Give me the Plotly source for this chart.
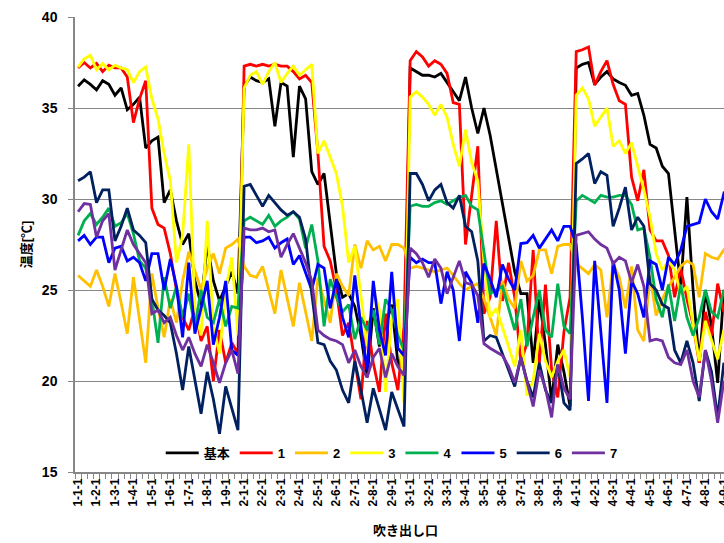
import plotly.graph_objects as go

# categories: group-position-sub
categories = [f"{g}-{p}-{s}" for g in range(1, 5) for p in range(1, 10) for s in range(1, 4)]

series_names = ["基本", "1", "2", "3", "4", "5", "6", "7"]
series_colors = ["#000000", "#FF0000", "#FFC000", "#FFFF00", "#00B050", "#0000FF", "#002060", "#7030A0"]

kihon = [
    36.2, 36.55, 36.3, 36.0, 36.5, 36.3, 35.7, 36.1, 34.9, 35.2, 35.6, 32.8, 33.2, 33.4, 29.8, 30.5, 28.8, 27.5, 28.1, 25.5, 24.2, 27.5, 25.5, 24.4, 25.2, 26.0, 24.8,
    36.2, 36.7, 36.5, 36.4, 36.6, 34.0, 36.4, 36.2, 32.3, 36.2, 35.5, 31.5, 30.8, 31.4, 28.5, 25.9, 24.6, 24.8, 24.1, 22.5, 20.2, 24.0, 21.9, 23.0, 24.2, 21.0, 20.2,
    37.2, 37.0, 36.8, 36.8, 36.7, 36.9, 36.4, 35.9, 35.4, 36.7, 35.0, 33.6, 35.0, 33.5, 31.6, 29.9, 28.0, 26.0, 24.8, 24.8, 21.0, 24.5, 22.0, 18.9, 22.0, 20.5, 18.6,
    37.2, 37.4, 37.5, 36.3, 36.7, 37.0, 36.6, 36.4, 36.25, 35.7, 35.8, 34.6, 33.0, 32.8, 31.8, 31.4, 28.3, 25.2, 30.1, 25.0, 21.0, 25.0, 23.0, 19.9, 25.0, 23.5, 22.0,
]
s1 = [
    37.2, 37.5, 37.2, 37.45, 37.0, 37.35, 37.2, 37.2, 36.7, 34.2, 35.5, 36.5, 29.5, 28.6, 28.4, 27.0, 25.0, 23.5, 22.8, 24.0, 22.2, 23.0, 20.0, 22.8, 21.0, 22.1, 21.5,
    37.3, 37.4, 37.3, 37.4, 37.3, 37.4, 37.3, 37.3, 37.0, 36.6, 36.8, 36.4, 32.5, 27.4, 26.6, 25.0, 22.5, 23.2, 21.1, 19.0, 23.3, 21.0, 19.4, 23.7, 21.0, 19.5, 23.0,
    37.6, 38.1, 37.8, 37.3, 37.6, 37.4, 36.9, 35.3, 35.2, 27.5, 30.2, 32.9, 23.7, 24.6, 28.8, 24.4, 26.5, 24.6, 21.0, 22.1, 27.2, 21.0, 25.3, 20.6, 19.1, 22.7, 24.6,
    38.1, 38.2, 38.35, 36.25, 37.0, 37.6, 36.3, 35.4, 35.2, 31.2, 29.9, 31.6, 28.3, 27.7, 27.7, 26.9, 24.6, 26.2, 24.5, 23.1, 21.0, 23.8, 22.5, 25.35, 23.8, 24.5, 23.0,
]
s2 = [
    25.8, 25.5, 25.2, 26.1, 25.2, 24.1, 25.9, 24.3, 22.6, 25.7, 23.3, 21.0, 25.9, 24.0, 22.4, 24.5, 23.2, 25.5, 27.1, 26.0, 25.0, 26.2, 27.0, 25.9, 27.3, 27.5, 27.8,
    26.3, 25.8, 25.7, 26.3, 25.0, 23.7, 26.1, 24.5, 23.0, 25.4, 23.8, 22.2, 25.7, 24.5, 23.2, 25.9, 25.2, 24.7, 27.5, 26.2, 27.7, 27.2, 27.4, 26.6, 27.5, 27.5, 27.3,
    26.2, 26.3, 26.2, 26.1, 26.0, 26.1, 26.2, 25.8, 25.35, 25.0, 25.2, 25.35, 24.5, 23.5, 22.5, 25.5, 24.5, 24.0, 26.6, 25.5, 25.8, 27.2, 27.2, 25.9, 27.4, 27.5, 27.5,
    26.45, 26.2, 25.9, 26.4, 26.1, 23.5, 26.45, 25.7, 24.0, 26.3, 22.8, 22.2, 25.8, 23.6, 24.5, 25.2, 25.7, 26.3, 26.6, 26.4, 24.6, 27.0, 26.8, 26.7, 27.2, 27.0, 26.8,
]
s3 = [
    37.25, 37.7, 37.9, 37.1, 37.45, 37.1, 37.35, 37.2, 37.1, 36.4, 37.0, 37.25, 35.5, 34.4, 32.5, 31.0, 26.5, 28.0, 33.0, 24.0, 22.5, 28.8, 23.0, 21.5, 25.0, 26.8, 22.5,
    36.1, 36.8, 37.0, 36.3, 37.0, 37.5, 36.4, 36.9, 37.3, 36.8, 37.1, 37.4, 32.5, 33.2, 32.3, 31.4, 29.6, 26.5, 27.4, 24.5, 21.9, 25.0, 23.9, 19.4, 23.5, 24.5, 18.8,
    35.6, 35.9, 35.6, 35.2, 34.6, 35.2, 34.5, 33.0, 31.8, 33.8, 32.0, 31.0, 26.5, 23.5, 24.0, 23.0, 21.9, 20.8, 22.8, 19.2, 20.0, 22.6, 21.1, 20.2, 21.1, 21.7, 20.2,
    35.7, 36.1, 35.5, 34.0, 34.5, 35.0, 32.9, 33.2, 32.5, 33.1, 31.8, 30.5, 29.0, 27.0, 26.1, 26.6, 26.1, 24.8, 25.2, 23.2, 21.1, 23.3, 22.3, 21.2, 22.8, 21.5, 20.5,
]
s4 = [
    28.0, 28.8, 29.2, 28.6, 29.0, 29.5, 28.5, 28.7, 29.2, 28.1, 26.6, 26.2, 24.5, 22.1, 25.7, 24.0, 25.2, 23.5, 24.8, 23.0, 25.0, 23.5, 23.2, 24.5, 23.0, 24.1, 24.0,
    28.8, 29.0, 28.8, 28.6, 29.1, 28.5, 28.8, 29.0, 29.3, 28.9, 27.3, 28.6, 26.6, 23.0, 25.6, 24.6, 23.8, 24.2, 22.3, 23.5, 22.8, 23.9, 22.0, 24.5, 23.9, 22.5, 21.7,
    29.6, 29.7, 29.6, 29.6, 29.8, 29.9, 29.7, 29.9, 30.1, 30.2, 29.6, 29.4, 27.2, 24.8, 25.0, 25.2, 24.0, 22.8, 24.5, 21.9, 23.5, 25.0, 22.8, 22.4, 25.35, 23.0, 22.6,
    29.9, 30.2, 30.0, 29.8, 30.2, 30.1, 30.1, 30.2, 30.2, 29.7, 28.3, 28.4, 26.8, 24.5, 23.5, 25.3, 23.3, 25.3, 23.5, 22.5, 23.5, 25.0, 23.8, 23.5, 25.0, 24.0, 23.0,
]
s5 = [
    27.7, 28.0, 27.5, 27.9, 27.9, 26.5, 27.3, 27.4, 26.6, 26.8, 26.5, 25.5, 27.0, 27.0, 25.0, 26.7, 25.2, 22.4, 26.5, 22.6, 24.0, 25.5, 22.0, 23.5, 25.5, 21.7, 21.4,
    27.9, 27.9, 27.6, 27.7, 27.9, 27.3, 27.6, 27.8, 26.4, 26.9, 26.0, 25.0, 26.4, 26.2, 24.0, 25.6, 23.5, 22.4, 25.8, 23.0, 20.6, 25.5, 22.8, 21.4, 26.0, 21.8, 21.4,
    26.8, 26.5, 26.7, 26.5, 26.5, 24.25, 26.0, 25.0, 22.2, 26.0, 25.4, 23.2, 26.45, 25.6, 24.6, 26.4, 25.6, 25.0, 27.55, 27.6, 28.0, 27.3, 27.8, 28.3, 27.7, 28.5, 28.5,
    27.5, 23.5, 18.9, 26.6, 22.5, 18.8, 26.6, 25.0, 21.5, 25.5, 24.8, 23.5, 26.6, 26.4, 25.0, 26.8, 26.4, 27.2, 28.5, 28.6, 28.7, 30.0, 29.3, 28.9, 30.3, 30.0, 29.8,
]
s6 = [
    31.0, 31.2, 31.5, 29.8, 30.5, 30.5, 27.7, 28.5, 29.5, 28.3, 28.0, 27.6, 24.5, 23.9, 23.6, 23.2, 21.5, 19.5, 21.9, 20.0, 18.2, 20.5, 19.0, 17.1, 19.7, 18.5, 17.3,
    30.7, 30.8, 30.2, 29.6, 30.2, 29.8, 29.4, 29.1, 29.3, 29.0, 27.8, 24.8, 22.1, 22.0, 21.1, 20.6, 19.5, 18.8, 21.1, 19.5, 17.7, 19.6, 18.5, 17.3, 19.4, 18.5, 17.5,
    31.4, 31.4, 30.8, 29.9, 30.5, 30.8, 29.8, 29.5, 30.2, 28.5, 28.2, 26.6, 22.2, 22.5, 22.4, 21.5, 20.5, 19.7, 21.3, 20.0, 19.1, 21.0, 19.5, 18.8, 20.9, 18.8, 18.4,
    31.95, 32.2, 32.5, 30.85, 31.5, 31.3, 28.5, 29.5, 30.65, 28.3, 29.0, 28.5, 25.35, 25.0, 24.2, 24.0, 21.7, 21.0, 22.2, 21.0, 18.9, 21.7, 20.5, 18.0, 21.0, 20.0, 19.0,
]
s7 = [
    29.3, 29.75, 29.7, 27.9, 28.8, 29.2, 26.1, 27.2, 28.3, 27.5, 27.0, 26.5, 23.7, 23.9, 23.2, 23.5, 22.5, 21.7, 22.4, 21.5, 20.8, 22.0, 21.0, 19.9, 21.0, 21.7, 20.4,
    28.4, 28.3, 28.3, 28.4, 28.2, 28.3, 26.8, 27.5, 28.1, 27.3, 26.5, 25.5, 22.8, 22.5, 22.3, 22.2, 22.0, 21.0, 21.7, 20.8, 20.2, 21.3, 21.8, 20.2, 21.5, 20.8, 20.3,
    27.3, 27.0, 26.5, 25.7, 26.7, 26.2, 24.8, 25.7, 26.6, 25.4, 25.3, 24.7, 22.05, 21.8, 21.6, 21.4, 20.8, 19.9, 21.3, 19.9, 18.6, 20.6, 19.6, 18.0, 20.9, 19.6, 19.0,
    28.0, 28.1, 28.2, 27.8, 27.5, 27.3, 26.45, 26.8, 26.6, 25.4, 26.4, 25.2, 22.2, 22.3, 22.2, 21.3, 21.0, 20.9, 21.7, 20.0, 19.1, 21.7, 20.0, 17.7, 20.0, 19.5, 18.5,
]
series_values = [kihon, s1, s2, s3, s4, s5, s6, s7]

y_ticks = [15, 20, 25, 30, 35, 40]
tick_text = [c if i % 3 == 0 else "" for i, c in enumerate(categories)]
x_title = "吹き出し口"
y_title = "温度[℃]"

FONT = "Liberation Sans, Arial, Noto Sans CJK JP, sans-serif"
GRAY = "#878787"

fig = go.Figure()
for name, color, vals in zip(series_names, series_colors, series_values):
    fig.add_trace(go.Scatter(
        x=categories, y=vals, name=name, mode="lines",
        line=dict(color=color, width=2.8),
    ))

fig.add_annotation(
    text=x_title, xref="paper", yref="paper", x=0.509, y=-0.128,
    xanchor="center", yanchor="middle", showarrow=False, borderpad=0,
    font=dict(size=13, family=FONT, weight="bold", color="black"),
)

fig.update_layout(
    width=724, height=543,
    margin=dict(l=75, r=0, t=17, b=71, autoexpand=False),
    paper_bgcolor="white", plot_bgcolor="white",
    font=dict(family=FONT, color="black"),
    showlegend=True,
    legend=dict(
        orientation="h", x=0.488, xanchor="center", y=0.042, yanchor="middle",
        bgcolor="rgba(255,255,255,0)",
        font=dict(size=13, family=FONT, weight="bold"),
        itemwidth=33, tracegroupgap=0,
    ),
    xaxis=dict(
        type="category", range=[-0.5, 105.03], automargin=False,
        tickmode="array", tickvals=categories, ticktext=tick_text,
        tickson="boundaries", ticks="outside", ticklen=5, tickcolor=GRAY, tickwidth=1,
        tickangle=-90, tickfont=dict(size=12, family=FONT, weight="bold"),
        showline=True, linecolor=GRAY, linewidth=1.5,
        showgrid=False, zeroline=False,
    ),
    yaxis=dict(
        range=[15, 40], tickmode="array", tickvals=y_ticks, automargin=False,
        ticks="outside", ticklen=5, tickcolor=GRAY,
        tickfont=dict(size=14, family=FONT, weight="bold"),
        ticklabelstandoff=8,
        showline=True, linecolor=GRAY, linewidth=1.5,
        showgrid=True, gridcolor=GRAY, gridwidth=1.3, zeroline=False,
        title=dict(text=y_title, font=dict(size=13, family=FONT, weight="bold"), standoff=7),
    ),
)

fig.write_html(
    "out.html",
    config={"displayModeBar": False},
    post_script="document.body.style.margin='0';document.body.style.overflow='hidden';",
)
